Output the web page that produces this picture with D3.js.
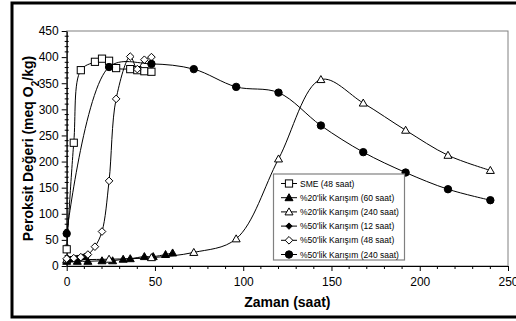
<!DOCTYPE html>
<html>
<head>
<meta charset="utf-8">
<script src="https://cdn.jsdelivr.net/npm/d3@7"></script>
<style>
  html, body { margin: 0; padding: 0; background: #fff; }
  svg { display: block; font-family: "Liberation Sans", Arial, sans-serif; }
</style>
</head>
<body>
<svg id="chart" width="516" height="321"></svg>
<script>
// Peroxide value (meq O2/kg) against time (hours) for each sample
const smeT = [0, 4, 8, 16, 20, 24, 28, 36, 40, 44, 48];
const smeV = [32, 236, 375, 391, 397, 393, 379, 377, 375, 373, 372];

const k20aT = [0, 6, 12, 20, 26, 32, 36, 44, 49, 56, 60];
const k20aV = [9, 9, 9, 10, 10, 13, 14, 18, 18, 22, 25];

const k20bT = [0, 24, 48, 72, 96, 120, 144, 168, 192, 216, 240];
const k20bV = [12, 13, 16, 26, 52, 205, 357, 312, 260, 212, 183];

const k50aT = [0, 1, 2, 3, 4, 5, 6, 7, 8, 9, 10, 11, 12];
const k50aV = [12, 12, 13, 13, 14, 14, 15, 15, 16, 17, 18, 19, 21];

const k50bT = [0, 4, 8, 12, 16, 20, 24, 28, 36, 40, 44, 48];
const k50bV = [14, 15, 17, 22, 37, 66, 163, 320, 401, 377, 395, 400];

const k50cT = [0, 24, 48, 72, 96, 120, 144, 168, 192, 216, 240];
const k50cV = [62, 381, 387, 377, 343, 332, 269, 218, 179, 147, 126];

const seriesNames = [
  "SME (48 saat)",
  "%20'lik Karışım (60 saat)",
  "%20'lik Karışım (240 saat)",
  "%50'lik Karışım (12 saat)",
  "%50'lik Karışım (48 saat)",
  "%50'lik Karışım (240 saat)"
];

const xTicks = [0, 50, 100, 150, 200, 250];
const yTicks = [0, 50, 100, 150, 200, 250, 300, 350, 400, 450];

const svg = d3.select("#chart");

// outer frame
svg.append("rect")
  .attr("x", 12).attr("y", 3).attr("width", 510).attr("height", 314)
  .attr("fill", "none").attr("stroke", "#000").attr("stroke-width", 3);

const x = d3.scaleLinear().domain([0, 250]).range([66.7, 508]);
const y = d3.scaleLinear().domain([0, 450]).range([266, 31]);

// plot area border
svg.append("rect")
  .attr("x", x(0)).attr("y", y(450))
  .attr("width", x(250) - x(0)).attr("height", y(0) - y(450))
  .attr("fill", "none").attr("stroke", "#808080").attr("stroke-width", 1);

// minor ticks
const xMinor = d3.range(0, 251, 10).filter(v => v % 50 !== 0);
const yMinor = d3.range(0, 451, 10).filter(v => v % 50 !== 0);
svg.append("g").selectAll("line").data(xMinor).join("line")
  .attr("x1", d => x(d)).attr("x2", d => x(d))
  .attr("y1", y(0)).attr("y2", y(0) + 3)
  .attr("stroke", "#000").attr("stroke-width", 1);
svg.append("g").selectAll("line").data(yMinor).join("line")
  .attr("x1", x(0) - 2).attr("x2", x(0) + 2)
  .attr("y1", d => y(d)).attr("y2", d => y(d))
  .attr("stroke", "#000").attr("stroke-width", 1);

// axes
const xAxis = svg.append("g")
  .attr("transform", `translate(0,${y(0)})`)
  .call(d3.axisBottom(x).tickValues(xTicks).tickSize(5).tickPadding(6).tickSizeOuter(0));
const yAxis = svg.append("g")
  .attr("transform", `translate(${x(0)},0)`)
  .call(d3.axisLeft(y).tickValues(yTicks).tickSize(5).tickPadding(3).tickSizeOuter(0));
[xAxis, yAxis].forEach(g => {
  g.select(".domain").attr("stroke", "#000").attr("stroke-width", 1.2);
  g.selectAll(".tick line").attr("stroke", "#000");
  g.selectAll(".tick text")
    .attr("fill", "#000")
    .style("font-family", "'Liberation Sans', Arial, sans-serif")
    .style("font-size", "12px");
});

// axis titles
svg.append("text")
  .attr("x", (x(0) + x(250)) / 2).attr("y", 307)
  .attr("text-anchor", "middle")
  .style("font-size", "14px").style("font-weight", "bold")
  .text("Zaman (saat)");

const yTitle = svg.append("text")
  .attr("transform", `translate(33,${(y(0) + y(450)) / 2}) rotate(-90)`)
  .attr("text-anchor", "middle")
  .style("font-size", "14px").style("font-weight", "bold");
yTitle.append("tspan").text("Peroksit Değeri (meq O");
yTitle.append("tspan").attr("baseline-shift", "sub").style("font-size", "10px").text("2");
yTitle.append("tspan").text("/kg)");

// marker drawing
function marker(g, type, cx, cy) {
  const s = 3.6;
  if (type === "square") {
    g.append("rect").attr("x", cx - s).attr("y", cy - s)
      .attr("width", 2 * s).attr("height", 2 * s)
      .attr("fill", "#fff").attr("stroke", "#000").attr("stroke-width", 1);
  } else if (type === "triFill" || type === "triOpen") {
    const h = 4;
    g.append("path")
      .attr("d", `M${cx},${cy - h}L${cx + h},${cy + h * 0.75}L${cx - h},${cy + h * 0.75}Z`)
      .attr("fill", type === "triFill" ? "#000" : "#fff")
      .attr("stroke", "#000").attr("stroke-width", 1);
  } else if (type === "diaSmall") {
    const d = 3.2;
    g.append("path")
      .attr("d", `M${cx},${cy - d}L${cx + d},${cy}L${cx},${cy + d}L${cx - d},${cy}Z`)
      .attr("fill", "#000").attr("stroke", "#000").attr("stroke-width", 1);
  } else if (type === "diaOpen") {
    const d = 3.8;
    g.append("path")
      .attr("d", `M${cx},${cy - d}L${cx + d},${cy}L${cx},${cy + d}L${cx - d},${cy}Z`)
      .attr("fill", "#fff").attr("stroke", "#000").attr("stroke-width", 1);
  } else if (type === "circle") {
    g.append("circle").attr("cx", cx).attr("cy", cy).attr("r", 3.7)
      .attr("fill", "#000").attr("stroke", "#000");
  }
}

const series = [
  { name: seriesNames[0], t: smeT, v: smeV, m: "square" },
  { name: seriesNames[1], t: k20aT, v: k20aV, m: "triFill" },
  { name: seriesNames[2], t: k20bT, v: k20bV, m: "triOpen" },
  { name: seriesNames[3], t: k50aT, v: k50aV, m: "diaSmall" },
  { name: seriesNames[4], t: k50bT, v: k50bV, m: "diaOpen" },
  { name: seriesNames[5], t: k50cT, v: k50cV, m: "circle" }
];

const line = d3.line()
  .x(d => x(d[0])).y(d => y(d[1]))
  .curve(d3.curveCatmullRom.alpha(0.5));

series.forEach(s => {
  const pts = s.t.map((t, i) => [t, s.v[i]]);
  const g = svg.append("g");
  g.append("path").datum(pts).attr("d", line)
    .attr("fill", "none").attr("stroke", "#000").attr("stroke-width", 1);
  pts.forEach(p => marker(g, s.m, x(p[0]), y(p[1])));
});

// legend
const lg = svg.append("g");
lg.append("rect")
  .attr("x", 273.5).attr("y", 174).attr("width", 131).attr("height", 86)
  .attr("fill", "#fff").attr("stroke", "#808080").attr("stroke-width", 1.2);
series.forEach((s, i) => {
  const ly = 183.5 + i * 14.2;
  lg.append("line").attr("x1", 281).attr("x2", 297).attr("y1", ly).attr("y2", ly)
    .attr("stroke", "#000").attr("stroke-width", 1);
  marker(lg, s.m, 289, ly);
  lg.append("text").attr("x", 300).attr("y", ly + 3)
    .style("font-size", "8.5px").text(s.name);
});
</script>
</body>
</html>
